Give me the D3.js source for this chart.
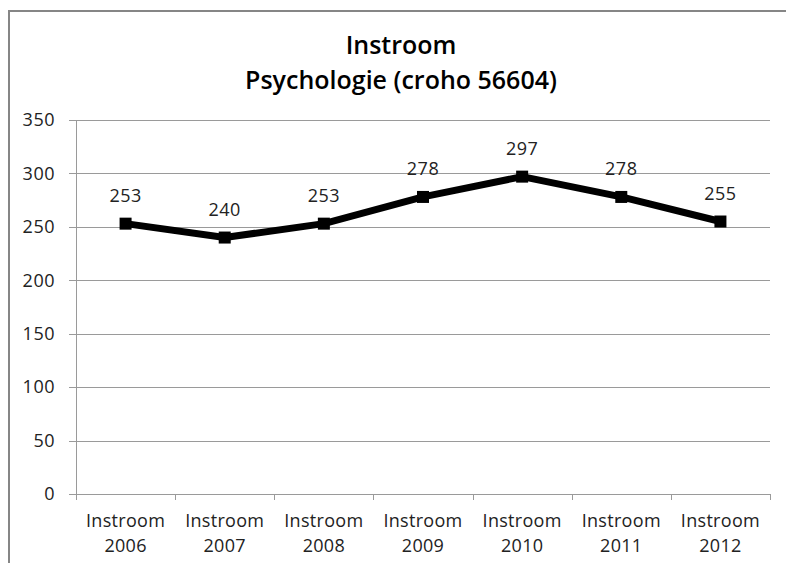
<!DOCTYPE html>
<html>
<head>
<meta charset="utf-8">
<script src="https://cdn.jsdelivr.net/npm/d3@7"></script>
<style>
  body { margin: 0; background: #fff; }
  text { font-family: "Open Sans", "Noto Sans", sans-serif; fill: #222; }
</style>
</head>
<body>
<div id="chart"></div>
<script>
// data
var categories = ["Instroom 2006", "Instroom 2007", "Instroom 2008", "Instroom 2009",
                  "Instroom 2010", "Instroom 2011", "Instroom 2012"];
var values = [253, 240, 253, 278, 297, 278, 255];
var yTicks = [0, 50, 100, 150, 200, 250, 300, 350];
var titleLines = ["Instroom", "Psychologie (croho 56604)"];

var width = 786, height = 563;
var plot = { left: 76, right: 770, top: 120, bottom: 494 };

var svg = d3.select('#chart').append('svg')
  .attr('width', width)
  .attr('height', height);

// chart border (only left and top visible in the crop)
svg.append('rect')
  .attr('x', 9).attr('y', 11)
  .attr('width', 800).attr('height', 600)
  .attr('fill', 'none')
  .attr('stroke', '#868686')
  .attr('stroke-width', 2);

// title
svg.append('g').selectAll('text')
  .data(titleLines)
  .enter().append('text')
  .attr('x', 401)
  .attr('y', function (d, i) { return 54 + i * 35; })
  .attr('text-anchor', 'middle')
  .style('font-size', '25px')
  .style('font-weight', '600')
  .style('fill', '#000')
  .text(function (d) { return d; });

var x = d3.scaleBand()
  .domain(categories)
  .range([plot.left, plot.right]);

var y = d3.scaleLinear()
  .domain([0, 350])
  .range([plot.bottom, plot.top]);

// gridlines
svg.append('g').selectAll('line')
  .data(yTicks)
  .enter().append('line')
  .attr('x1', plot.left - 7).attr('x2', plot.right)
  .attr('y1', function (d) { return Math.round(y(d)) + 0.5; })
  .attr('y2', function (d) { return Math.round(y(d)) + 0.5; })
  .attr('stroke', '#9a9a9a')
  .attr('stroke-width', 1);

// y axis line
svg.append('line')
  .attr('x1', plot.left + 0.5).attr('x2', plot.left + 0.5)
  .attr('y1', plot.top).attr('y2', plot.bottom)
  .attr('stroke', '#9a9a9a');

// y tick labels
svg.append('g').selectAll('text')
  .data(yTicks)
  .enter().append('text')
  .attr('x', 55)
  .attr('y', function (d) { return y(d); })
  .attr('dy', '0.35em')
  .attr('text-anchor', 'end')
  .style('font-size', '18px')
  .style('letter-spacing', '0.5px')
  .text(function (d) { return d; });

// x axis ticks
var xTickPos = categories.map(function (c) { return x(c); }).concat([plot.right]);
svg.append('g').selectAll('line')
  .data(xTickPos)
  .enter().append('line')
  .attr('x1', function (d) { return Math.round(d) + 0.5; })
  .attr('x2', function (d) { return Math.round(d) + 0.5; })
  .attr('y1', plot.bottom).attr('y2', plot.bottom + 6)
  .attr('stroke', '#9a9a9a');

// x labels, two lines each
var xl = svg.append('g').selectAll('text')
  .data(categories)
  .enter().append('text')
  .attr('x', function (d) { return x(d) + x.bandwidth() / 2; })
  .attr('y', 527)
  .attr('text-anchor', 'middle')
  .style('font-size', '18px')
  .style('letter-spacing', '0.3px');
xl.append('tspan')
  .attr('x', function (d) { return x(d) + x.bandwidth() / 2; })
  .text(function (d) { return d.split(' ')[0]; });
xl.append('tspan')
  .attr('x', function (d) { return x(d) + x.bandwidth() / 2; })
  .attr('dy', 25)
  .text(function (d) { return d.split(' ')[1]; });

// the line
var line = d3.line()
  .x(function (d, i) { return x(categories[i]) + x.bandwidth() / 2; })
  .y(function (d) { return y(d); });

svg.append('path')
  .datum(values)
  .attr('d', line)
  .attr('fill', 'none')
  .attr('stroke', '#000')
  .attr('stroke-width', 7)
  .attr('stroke-linejoin', 'round');

// square markers
svg.append('g').selectAll('rect')
  .data(values)
  .enter().append('rect')
  .attr('x', function (d, i) { return x(categories[i]) + x.bandwidth() / 2 - 6; })
  .attr('y', function (d) { return y(d) - 6; })
  .attr('width', 12).attr('height', 12)
  .attr('fill', '#000');

// data labels
svg.append('g').selectAll('text')
  .data(values)
  .enter().append('text')
  .attr('x', function (d, i) { return x(categories[i]) + x.bandwidth() / 2; })
  .attr('y', function (d) { return y(d) - 22; })
  .attr('text-anchor', 'middle')
  .style('font-size', '18px')
  .style('letter-spacing', '0.5px')
  .text(function (d) { return d; });
</script>
</body>
</html>
